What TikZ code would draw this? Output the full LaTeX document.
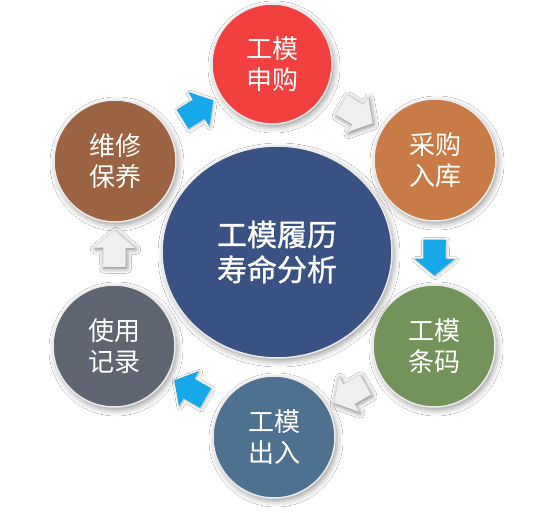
\documentclass[tikz,border=0pt]{standalone}
\usepackage{fontspec}
\newfontfamily\cjk{Noto Sans CJK SC}
\newfontfamily\cjkmed[FakeBold=1]{Noto Sans CJK SC}
\usetikzlibrary{shadows.blur,shapes.arrows,shapes.geometric,calc}
\definecolor{cred}{HTML}{F2403F}
\definecolor{corange}{HTML}{C97B47}
\definecolor{cgreen}{HTML}{73935A}
\definecolor{cbottom}{HTML}{4E7190}
\definecolor{cgray}{HTML}{5F6571}
\definecolor{cbrown}{HTML}{9B6341}
\definecolor{cnavy}{HTML}{3A5283}
\definecolor{cblue}{HTML}{16A8E8}
\definecolor{clight}{HTML}{EFEFEF}
\begin{document}
\begin{tikzpicture}[x=1pt,y=-1pt,
  ball/.style={circle, minimum size=122pt, inner sep=0pt, draw=black!8, line width=1.5pt,
    text=white, font=\cjk\fontsize{26}{31}\selectfont, align=center,
    blur shadow={shadow xshift=2pt, shadow yshift=-3pt, shadow blur radius=6pt, shadow opacity=40}},
  blockarrow/.style={single arrow, minimum height=36pt, minimum width=0pt,
    single arrow head extend=9pt, single arrow tip angle=100, inner xsep=0pt, inner ysep=11pt,
    sloped, allow upside down},
  bluearrow/.style={blockarrow, fill=cblue,
    blur shadow={shadow xshift=1pt, shadow yshift=-1pt, shadow blur radius=3pt, shadow opacity=30}},
  lightarrow/.style={blockarrow, fill=clight,
    blur shadow={shadow xshift=1pt, shadow yshift=-1.5pt, shadow blur radius=5pt, shadow opacity=55}}
]
\useasboundingbox[fill=white] (0,0) rectangle (554,513);
\node[ball, fill=cred, minimum size=120pt] (red) at (272,64) {工模\\申购};
\node[ball, fill=corange] (orange) at (435,160) {采购\\入库};
\node[ball, fill=cgreen] (green) at (434,346) {工模\\条码};
\node[ball, fill=cbottom] (out) at (274,437) {工模\\出入};
\node[ball, fill=cgray] (use) at (114,346) {使用\\记录};
\node[ball, fill=cbrown] (maint) at (115,161) {维修\\保养};
\node[ball, ellipse, fill=cnavy, minimum width=230pt, minimum height=212pt,
  font=\cjkmed\fontsize{30}{35}\selectfont] (center) at (277,252) {工模履历\\寿命分析};
\path (maint) -- node[bluearrow]{} (red);
\path (red) -- node[lightarrow]{} (orange);
\path (orange) -- node[bluearrow]{} (green);
\path (green) -- node[lightarrow]{} (out);
\path (out) -- node[bluearrow]{} (use);
\path (use) -- node[lightarrow]{} (maint);
\end{tikzpicture}
\end{document}
